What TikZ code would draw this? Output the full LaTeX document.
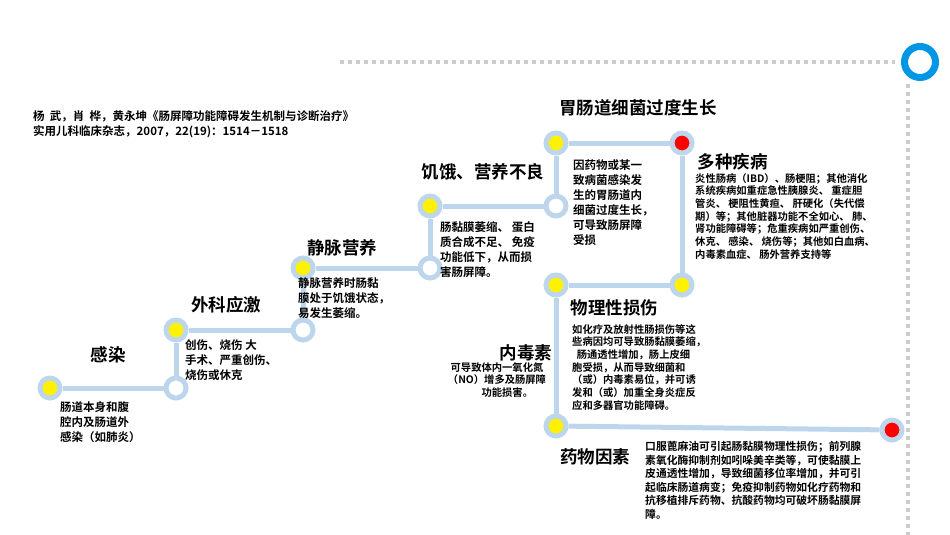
\documentclass[tikz,border=0pt]{standalone}
\usepackage{fontspec}
\setmainfont{Noto Sans CJK SC}[BoldFont={* Bold}]
\usetikzlibrary{positioning}
\definecolor{pipe}{RGB}{189,214,236}
\definecolor{ringblue}{RGB}{0,150,230}
\tikzset{
  stop/.style={circle, draw=pipe, line width=5pt, minimum size=20pt, inner sep=0pt, fill=#1},
  title/.style={font=\bfseries\fontsize{17.5}{19}\selectfont},
  note/.style={font=\bfseries\fontsize{11.5}{15}\selectfont, align=left, anchor=north west, inner sep=0pt},
  small/.style={font=\bfseries\fontsize{10.3}{12.7}\selectfont, align=left, anchor=north west, inner sep=0pt},
}
\begin{document}
\begin{tikzpicture}[x=1pt,y=-1pt]
\useasboundingbox (0,0) rectangle (950,535);
% frame decoration
\draw[gray!40, line width=4pt, dash pattern=on 4pt off 4pt] (340,62) -- (895,62);
\draw[gray!40, line width=4pt, dash pattern=on 4pt off 4pt] (908,84) -- (908,535);
\node[circle, draw=ringblue, line width=7pt, minimum size=31pt] (ring) at (920,62) {};
% stops
\node[stop=yellow] (A) at (50,388) {};
\node[stop=white]  (B) at (176,388) {};
\node[stop=yellow] (C) at (176,330) {};
\node[stop=white]  (D) at (303,330) {};
\node[stop=yellow] (E) at (303,268) {};
\node[stop=white]  (F) at (430,268) {};
\node[stop=yellow] (G) at (430,206) {};
\node[stop=white]  (H) at (556,206) {};
\node[stop=yellow] (I) at (556,143) {};
\node[stop=red]    (J) at (682,143) {};
\node[stop=yellow] (K) at (682,285) {};
\node[stop=yellow] (L) at (556,285) {};
\node[stop=yellow] (M) at (556,426) {};
\node[stop=red]    (N) at (892,430) {};
\foreach \a/\b in {A/B,B/C,C/D,D/E,E/F,F/G,G/H,H/I,I/J,J/K,K/L,L/M,M/N}
  \draw[pipe, line width=5pt] (\a) -- (\b);
% citation
\node[note, font=\bfseries\fontsize{11.5}{15}\selectfont] (cite) at (33,110) {杨\ \ 武，肖\ \ 桦，黄永坤《肠屏障功能障碍发生机制与诊断治疗》\\实用儿科临床杂志，2007，22(19)：1514－1518};
% labels
\node[title] (t1) at (108,355) {感染};
\node[note] (n1) at (60,401) {肠道本身和腹\\腔内及肠道外\\感染（如肺炎）};
\node[title] (t2) at (226,305) {外科应激};
\node[note] (n2) at (185,339) {创伤、烧伤 大\\手术、严重创伤、\\烧伤或休克};
\node[title] (t3) at (342,248) {静脉营养};
\node[note] (n3) at (298,277) {静脉营养时肠黏\\膜处于饥饿状态，\\易发生萎缩。};
\node[title] (t4) at (483,172) {饥饿、营养不良};
\node[note] (n4) at (440,221) {肠黏膜萎缩、 蛋白\\质合成不足、 免疫\\功能低下，从而损\\害肠屏障。};
\node[title] (t5) at (638,108) {胃肠道细菌过度生长};
\node[note] (n5) at (573,159) {因药物或某一\\致病菌感染发\\生的胃肠道内\\细菌过度生长，\\可导致肠屏障\\受损};
\node[title, anchor=west] (t6) at (694,162) {多种疾病};
\node[small] (n6) at (695,173) {炎性肠病（IBD）、肠梗阻；其他消化\\系统疾病如重症急性胰腺炎、 重症胆\\管炎、 梗阻性黄疸、 肝硬化（失代偿\\期）等；其他脏器功能不全如心、 肺、\\肾功能障碍等；危重疾病如严重创伤、\\休克、 感染、 烧伤等；其他如白血病、\\内毒素血症、 肠外营养支持等};
\node[title, anchor=west] (t7) at (567,308) {物理性损伤};
\node[small] (n7) at (572,324) {如化疗及放射性肠损伤等这\\些病因均可导致肠黏膜萎缩，\\\ \ 肠通透性增加，肠上皮细\\胞受损，从而导致细菌和\\（或）内毒素易位，并可诱\\发和（或）加重全身炎症反\\应和多器官功能障碍。};
\node[title, anchor=east] (t8) at (556,353) {内毒素};
\node[small, anchor=north, align=center] (n8) at (497,362) {可导致体内一氧化氮\\（NO）增多及肠屏障\\\qquad 功能损害。};
\node[title] (t9) at (595,457) {药物因素};
\node[small, font=\bfseries\fontsize{10.8}{13.6}\selectfont] (n9) at (645,441) {口服蓖麻油可引起肠黏膜物理性损伤；前列腺\\素氧化酶抑制剂如吲哚美辛类等，可使黏膜上\\皮通透性增加，导致细菌移位率增加，并可引\\起临床肠道病变；免疫抑制药物如化疗药物和\\抗移植排斥药物、抗酸药物均可破坏肠黏膜屏\\障。};
\end{tikzpicture}
\end{document}
